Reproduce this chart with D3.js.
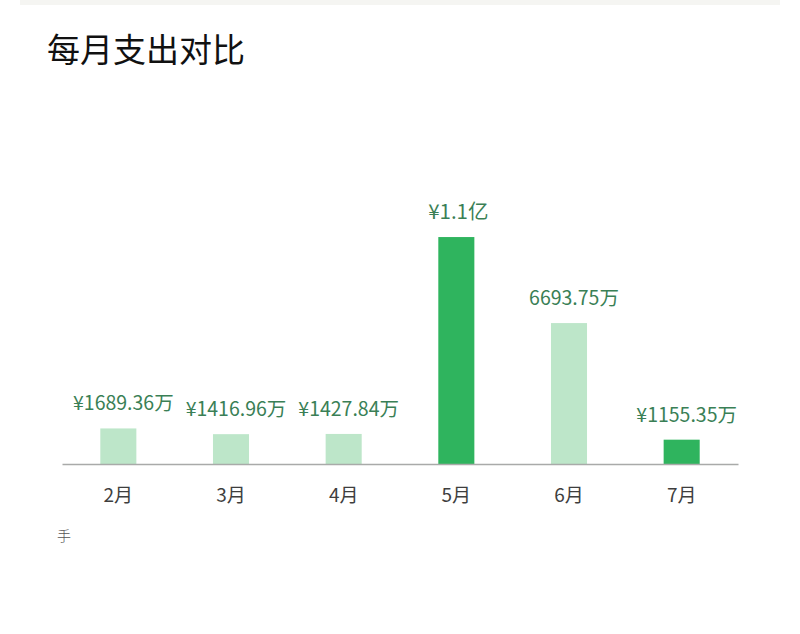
<!DOCTYPE html>
<html>
<head>
<meta charset="utf-8">
<script src="https://cdn.jsdelivr.net/npm/d3@7"></script>
<style>
  html, body { margin: 0; padding: 0; background: #fff; }
  svg { display: block; font-family: "Noto Sans CJK SC", "Noto Sans", sans-serif; }
</style>
</head>
<body>
<svg id="chart"></svg>
<script>
// monthly spending, unit: 万 (10k yuan)
const months = ["2月", "3月", "4月", "5月", "6月", "7月"];
const values = [1689.36, 1416.96, 1427.84, 10780, 6693.75, 1155.35];
const labels = ["¥1689.36万", "¥1416.96万", "¥1427.84万", "¥1.1亿", "6693.75万", "¥1155.35万"];
const highlighted = [false, false, false, true, false, true];

const svgWidth = 800, svgHeight = 634;
const margin = { top: 100, right: 60, bottom: 170, left: 62 };
const width = 738 - margin.left;
const height = 464 - margin.top;

const svg = d3.select("#chart")
    .attr("width", svgWidth)
    .attr("height", svgHeight);

// faint strip at the very top of the card
svg.append("rect")
    .attr("x", 20).attr("y", 0)
    .attr("width", 760).attr("height", 5)
    .attr("fill", "#f5f5f2");

svg.append("text")
    .attr("x", 47)
    .attr("y", 62)
    .attr("font-size", 33)
    .attr("font-weight", 400)
    .attr("fill", "#111")
    .text("每月支出对比");

const g = svg.append("g")
    .attr("transform", `translate(${margin.left},${margin.top})`);

const x = d3.scaleBand()
    .domain(months)
    .range([0, width])
    .paddingInner(0.68)
    .paddingOuter(0.34);

const y = d3.scaleLinear()
    .domain([0, 47.5 * height])
    .range([height, 0]);

g.selectAll(".bar")
    .data(months)
    .join("rect")
    .attr("class", "bar")
    .attr("x", d => x(d))
    .attr("y", (d, i) => y(values[i]))
    .attr("width", x.bandwidth())
    .attr("height", (d, i) => height - y(values[i]))
    .attr("fill", (d, i) => highlighted[i] ? "#2fb45e" : "#bde6c9");

g.selectAll(".val")
    .data(months)
    .join("text")
    .attr("class", "val")
    .attr("x", (d, i) => x(d) + x.bandwidth() / 2 + (i === 3 ? 2 : 5))
    .attr("y", (d, i) => y(values[i]) - 18)
    .attr("text-anchor", "middle")
    .attr("font-size", (d, i) => i === 3 ? 20.5 : 19.5)
    .attr("font-weight", 400)
    .attr("fill", "#3a7f56")
    .text((d, i) => labels[i]);

// axis: baseline only, month labels below
const xAxis = g.append("g")
    .attr("transform", `translate(0,${height})`)
    .call(d3.axisBottom(x).tickSize(0).tickPadding(25).tickSizeOuter(0));

xAxis.select(".domain")
    .attr("stroke", "#a9aaa9")
    .attr("stroke-width", 1.5);

xAxis.selectAll(".tick text")
    .attr("font-family", "\"Noto Sans CJK SC\", sans-serif")
    .attr("font-size", 19)
    .attr("fill", "#3e3e3e");

svg.append("text")
    .attr("x", 57)
    .attr("y", 541)
    .attr("font-size", 14)
    .attr("font-weight", 300)
    .attr("fill", "#555")
    .text("手");
</script>
</body>
</html>
